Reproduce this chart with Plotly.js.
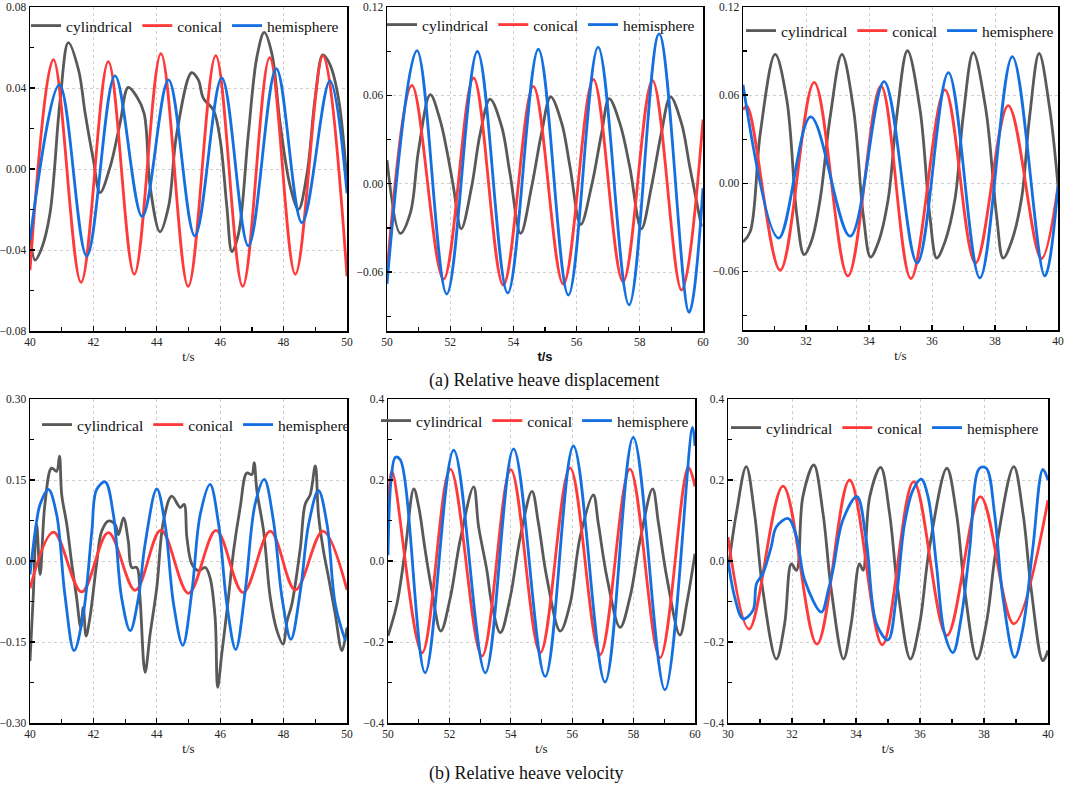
<!DOCTYPE html>
<html>
<head>
<meta charset="utf-8">
<script src="https://cdn.plot.ly/plotly-3.0.1.min.js"></script>
<style>html,body{margin:0;padding:0;background:#fff;}#chart{width:1065px;height:785px;}</style>
</head>
<body>
<div id="chart"></div>
<script>
// ---------- DATA ----------
const seriesNames = ["cylindrical", "conical", "hemisphere"];

// (a) displacement, panel 1 (t = 40..50)
const a1_t_cyl = [40.0,40.16,40.37,40.63,40.95,41.21,41.53,41.74,42.0,42.21,42.53,42.84,43.1,43.37,43.6,43.79,44.1,44.37,44.63,45.1,45.31,45.47,45.79,46.0,46.21,46.37,46.58,46.89,47.16,47.39,47.63,47.89,48.21,48.47,48.74,49.0,49.24,49.47,49.74,50.0];
const a1_cyl   = [-0.030,-0.045,-0.039,-0.022,0.034,0.0624,0.049,0.0275,0.0044,-0.0117,0.0012,0.0225,0.0403,0.0357,0.0275,-0.0087,-0.031,-0.0186,0.0176,0.0476,0.044,0.0349,0.029,0.0143,-0.0186,-0.0408,-0.0318,0.0176,0.0555,0.0675,0.057,0.0225,-0.0087,-0.0199,-0.0021,0.0357,0.0563,0.0513,0.034,-0.007];
const a1_t_con = [40.0,40.74,41.61,42.47,43.29,44.13,44.99,45.86,46.71,47.56,48.37,49.24,50.0];
const a1_con   = [-0.050,0.054,-0.056,0.053,-0.052,0.057,-0.058,0.056,-0.058,0.055,-0.052,0.056,-0.053];
const a1_t_hem = [40.0,40.93,41.79,42.68,43.54,44.37,45.2,46.05,46.89,47.77,48.58,49.46,50.0];
const a1_hem   = [-0.035,0.0415,-0.043,0.046,-0.0235,0.044,-0.033,0.045,-0.038,0.0495,-0.0265,0.0435,-0.012];

// (a) displacement, panel 2 (t = 50..60)
const a2_t_cyl = [50.0,50.42,50.74,51.0,51.37,51.68,51.89,52.1,52.35,52.68,52.95,53.26,53.63,53.89,54.23,54.58,54.89,55.18,55.53,55.79,56.13,56.47,56.79,57.03,57.37,57.68,58.05,58.37,58.68,58.97,59.32,59.58,59.95];
const a2_cyl   = [0.016,-0.0337,-0.0198,0.023,0.0605,0.0432,0.023,-0.0018,-0.0306,-0.0018,0.0342,0.0574,0.0387,0.0072,-0.0337,-0.0018,0.0342,0.059,0.041,0.0117,-0.0277,-0.0018,0.0342,0.0578,0.041,0.0117,-0.0306,-0.0018,0.0342,0.059,0.041,0.0117,-0.029];
const a2_t_con = [50.0,50.79,51.79,52.74,53.68,54.63,55.58,56.53,57.47,58.4,59.32,60.0];
const a2_con   = [-0.060,0.0668,-0.0648,0.0718,-0.0689,0.0661,-0.0682,0.0709,-0.0666,0.0702,-0.0722,0.0436];
const a2_t_hem = [50.0,50.95,51.89,52.86,53.82,54.79,55.74,56.68,57.66,58.61,59.56,60.0];
const a2_hem   = [-0.068,0.0904,-0.0749,0.0898,-0.0742,0.0913,-0.0756,0.0927,-0.0823,0.1017,-0.0873,-0.003];

// (a) displacement, panel 3 (t = 30..40)
const a3_t_cyl = [30.0,30.23,30.55,31.02,31.39,31.71,31.94,32.18,32.45,32.77,33.14,33.51,33.82,34.05,34.3,34.61,34.88,35.22,35.62,35.93,36.15,36.41,36.73,36.99,37.31,37.71,38.05,38.26,38.52,38.84,39.1,39.4,39.74,40.0];
const a3_cyl   = [-0.040,-0.033,0.0343,0.0877,0.0568,-0.0221,-0.0487,-0.039,-0.0108,0.0456,0.0877,0.0501,-0.0221,-0.0503,-0.040,-0.0108,0.0456,0.0902,0.0501,-0.0221,-0.051,-0.040,-0.0108,0.0456,0.0889,0.0501,-0.0221,-0.051,-0.040,-0.0108,0.0456,0.0884,0.0501,-0.0018];
const a3_t_con = [30.0,30.13,31.18,32.26,33.33,34.38,35.33,36.41,37.38,38.42,39.47,40.0];
const a3_con   = [0.050,0.0523,-0.0593,0.0686,-0.0632,0.0663,-0.065,0.0636,-0.0544,0.0528,-0.0514,-0.002];
const a3_t_hem = [30.0,31.13,32.15,33.4,34.48,35.53,36.52,37.52,38.55,39.58,40.0];
const a3_hem   = [0.067,-0.0374,0.0451,-0.0361,0.0692,-0.0544,0.0753,-0.0645,0.0862,-0.0632,-0.0018];

// (b) velocity, panel 1 (t = 40..50)
const b1_t_cyl = [40.0,40.1,40.21,40.32,40.47,40.68,40.84,40.93,41.0,41.16,41.32,41.47,41.6,41.68,41.77,41.89,42.1,42.26,42.47,42.68,42.79,42.95,43.1,43.21,43.37,43.47,43.63,43.79,44.0,44.21,44.47,44.74,44.86,44.95,45.11,45.32,45.53,45.68,45.84,45.92,46.05,46.26,46.42,46.63,46.84,47.0,47.07,47.16,47.37,47.58,47.79,47.98,48.11,48.26,48.53,48.68,48.84,49.0,49.1,49.26,49.42,49.63,49.84,50.0];
const b1_cyl   = [-0.185,-0.068,0.068,-0.025,0.105,0.172,0.166,0.194,0.123,0.068,-0.006,-0.068,-0.123,-0.086,-0.139,-0.105,-0.006,0.055,0.074,0.068,0.049,0.080,0.037,-0.012,-0.012,-0.068,-0.206,-0.135,-0.049,0.074,0.120,0.099,0.105,0.043,-0.006,-0.018,-0.012,-0.031,-0.105,-0.234,-0.172,-0.068,0.018,0.099,0.163,0.160,0.182,0.129,0.055,-0.068,-0.129,-0.154,-0.111,-0.080,0.025,0.105,0.123,0.176,0.086,0.018,-0.031,-0.099,-0.166,-0.123];
const b1_t_con = [40.0,40.74,41.63,42.47,43.32,44.13,45.0,45.87,46.72,47.58,48.37,49.24,50.0];
const b1_con   = [-0.0505,0.0536,-0.0573,0.0524,-0.0542,0.0573,-0.0598,0.0567,-0.0585,0.0554,-0.0536,0.0554,-0.0536];
const b1_t_hem = [40.0,40.21,40.32,40.58,40.84,41.1,41.39,41.68,41.95,42.1,42.37,42.63,42.89,43.16,43.42,43.63,44.0,44.26,44.53,44.82,45.11,45.37,45.68,45.95,46.21,46.49,46.79,47.1,47.39,47.68,47.95,48.23,48.53,48.79,49.1,49.37,49.63,49.95];
const b1_hem   = [-0.025,0.074,0.105,0.1325,0.086,-0.062,-0.166,-0.099,0.055,0.132,0.1466,0.086,-0.068,-0.129,-0.068,0.031,0.1337,0.068,-0.080,-0.156,-0.055,0.086,0.142,0.068,-0.080,-0.164,-0.055,0.105,0.151,0.074,-0.068,-0.145,-0.055,0.068,0.1306,0.068,-0.080,-0.148];

// (b) velocity, panel 2 (t = 50..60)
const b2_t_cyl = [50.0,50.29,50.56,50.84,51.0,51.21,51.43,51.72,52.03,52.35,52.79,52.95,53.22,53.38,53.66,53.98,54.31,54.69,54.9,55.17,55.61,55.93,56.26,56.69,56.85,57.13,57.56,57.88,58.21,58.62,58.81,59.08,59.51,59.73,60.0];
const b2_cyl   = [-0.185,-0.106,0.027,0.178,0.134,0.027,-0.073,-0.173,-0.09,0.051,0.183,0.085,-0.023,-0.106,-0.177,-0.09,0.06,0.172,0.093,-0.04,-0.173,-0.106,0.06,0.163,0.093,-0.04,-0.164,-0.09,0.051,0.178,0.093,-0.04,-0.183,-0.106,0.018];
const b2_t_con = [50.0,50.13,51.11,52.03,53.06,54.0,54.96,55.93,56.91,57.88,58.86,59.78,60.0];
const b2_con   = [0.101,0.2216,-0.2266,0.227,-0.235,0.2257,-0.2266,0.23,-0.231,0.227,-0.239,0.232,0.184];
const b2_t_hem = [50.0,50.1,50.24,50.4,51.21,52.14,53.17,54.09,55.12,56.04,57.07,57.99,59.02,59.92,60.0];
const b2_hem   = [0.014,0.2,0.256,0.25,-0.276,0.274,-0.276,0.277,-0.285,0.284,-0.299,0.305,-0.318,0.33,0.284];

// (b) velocity, panel 3 (t = 30..40)
const b3_t_cyl = [30.0,30.26,30.57,30.83,31.09,31.51,31.77,31.98,32.14,32.34,32.68,32.97,33.23,33.61,33.85,34.11,34.22,34.43,34.77,35.05,35.31,35.7,35.99,36.3,36.84,37.14,37.4,37.78,38.07,38.39,38.93,39.22,39.48,39.84,40.0];
const b3_cyl   = [-0.023,0.117,0.233,0.117,-0.073,-0.242,-0.155,-0.007,-0.023,0.159,0.237,0.117,-0.073,-0.242,-0.155,-0.007,-0.023,0.159,0.231,0.117,-0.073,-0.242,-0.155,0.035,0.229,0.117,-0.073,-0.242,-0.155,0.035,0.233,0.117,-0.073,-0.246,-0.221];
const b3_t_con = [30.0,30.66,31.72,32.78,33.8,34.82,35.8,36.84,37.89,38.93,40.0];
const b3_con   = [0.059,-0.168,0.185,-0.205,0.2,-0.207,0.196,-0.184,0.159,-0.155,0.15];
const b3_t_hem = [30.0,30.21,30.47,30.78,30.89,31.09,31.35,31.51,31.88,32.14,32.4,32.92,33.13,33.28,33.59,34.03,34.32,34.64,35.0,35.26,35.52,35.78,36.04,36.25,36.51,36.77,37.03,37.29,37.55,37.86,38.07,38.33,38.59,38.96,39.22,39.53,39.84,40.0];
const b3_hem   = [0.002,-0.089,-0.143,-0.122,-0.056,-0.031,0.035,0.084,0.105,0.06,-0.048,-0.126,-0.073,-0.023,0.101,0.159,0.051,-0.155,-0.195,-0.089,0.093,0.175,0.202,0.159,-0.007,-0.18,-0.226,-0.139,0.027,0.229,0.229,0.117,-0.089,-0.238,-0.164,0.035,0.226,0.2];

// axis tick settings per panel
const xRanges = [[40,50],[50,60],[30,40],[40,50],[50,60],[30,40]];
const yRanges = [[-0.08,0.08],[-0.1,0.12],[-0.1,0.12],[-0.3,0.3],[-0.4,0.4],[-0.4,0.4]];
const yDticks = [0.04,0.06,0.06,0.15,0.2,0.2];
const yFormats = [".2f",".2f",".2f",".2f",".1f",".1f"];
const captions = ["(a) Relative heave displacement","(b) Relative heave velocity"];
const xTitle = "t/s";

// ---------- FIGURE ----------
const W = 1065, H = 785;
const SERIF = "Times New Roman";
const colors = ["#595959", "#ff3a3a", "#1470e0"];
const panels = [
  [[a1_t_cyl,a1_cyl],[a1_t_con,a1_con],[a1_t_hem,a1_hem]],
  [[a2_t_cyl,a2_cyl],[a2_t_con,a2_con],[a2_t_hem,a2_hem]],
  [[a3_t_cyl,a3_cyl],[a3_t_con,a3_con],[a3_t_hem,a3_hem]],
  [[b1_t_cyl,b1_cyl],[b1_t_con,b1_con],[b1_t_hem,b1_hem]],
  [[b2_t_cyl,b2_cyl],[b2_t_con,b2_con],[b2_t_hem,b2_hem]],
  [[b3_t_cyl,b3_cyl],[b3_t_con,b3_con],[b3_t_hem,b3_hem]]
];
// pixel boxes [left,right,top,bottom]
const boxes = [
  [30,347,7,331],[387,703,7,331],[743,1058,7,330],
  [30,347,399,723],[388,695,399,723],[728,1048,399,723]
];
// legend anchor pixels [x,y]
const legPos = [[26,26],[382,25],[741,31],[37,425],[376,421],[726,428]];

const traces = [];
const layout = {
  width: W, height: H,
  margin: {l:0,r:0,t:0,b:0},
  paper_bgcolor: "#fff", plot_bgcolor: "#fff",
  font: {family: SERIF, color: "#111"},
  annotations: [],
  showlegend: true
};

panels.forEach((p, i) => {
  const k = i === 0 ? "" : String(i + 1);
  const legKey = "legend" + k;
  p.forEach((s, j) => {
    traces.push({
      type: "scatter", mode: "lines",
      x: s[0], y: s[1],
      name: seriesNames[j],
      line: {color: colors[j], width: 2.8, shape: "spline", smoothing: 1},
      xaxis: "x" + k, yaxis: "y" + k,
      legend: legKey
    });
  });
  const b = boxes[i];
  const common = {
    showline: true, linecolor: "#000", linewidth: 1.5, mirror: true,
    ticks: "inside", ticklen: 5, tickcolor: "#000", tickwidth: 1.2,
    showgrid: true, gridcolor: "#d0d0d0", griddash: "dot", gridwidth: 1,
    zeroline: false,
    tickfont: {size: 11.5, family: SERIF, color: "#222"},
    minor: {ticks: "inside", ticklen: 4, tickcolor: "#000", showgrid: false}
  };
  layout["xaxis" + k] = Object.assign({}, common, {
    domain: [b[0] / W, b[1] / W],
    range: xRanges[i], dtick: 2, tick0: 0,
    minor: Object.assign({}, common.minor, {dtick: 1}),
    anchor: "y" + k,
    title: {text: xTitle, standoff: 4,
      font: (i === 1) ? {size: 13, family: "Arial", weight: "bold", color: "#111"}
                      : {size: 13, family: SERIF, color: "#111"}}
  });
  layout["yaxis" + k] = Object.assign({}, common, {
    domain: [1 - b[3] / H, 1 - b[2] / H],
    range: yRanges[i], dtick: yDticks[i], tick0: 0,
    tickformat: yFormats[i],
    minor: Object.assign({}, common.minor, {dtick: yDticks[i] / 2}),
    anchor: "x" + k
  });
  const lp = legPos[i];
  layout[legKey] = {
    orientation: "h", x: lp[0] / W, y: 1 - lp[1] / H,
    xanchor: "left", yanchor: "middle",
    bgcolor: "rgba(0,0,0,0)", borderwidth: 0,
    font: {size: 15.5, family: SERIF, color: "#111"},
    itemwidth: 30, tracegroupgap: 0
  };
});

captions.forEach((c, i) => {
  layout.annotations.push({
    text: c, xref: "paper", yref: "paper", x: 427 / W, y: 1 - (i === 0 ? 380 : 773) / H,
    xanchor: "left", yanchor: "middle", showarrow: false,
    font: {size: 18, family: SERIF, color: "#111"}
  });
});

Plotly.newPlot("chart", traces, layout, {staticPlot: true, displayModeBar: false});
</script>
</body>
</html>
